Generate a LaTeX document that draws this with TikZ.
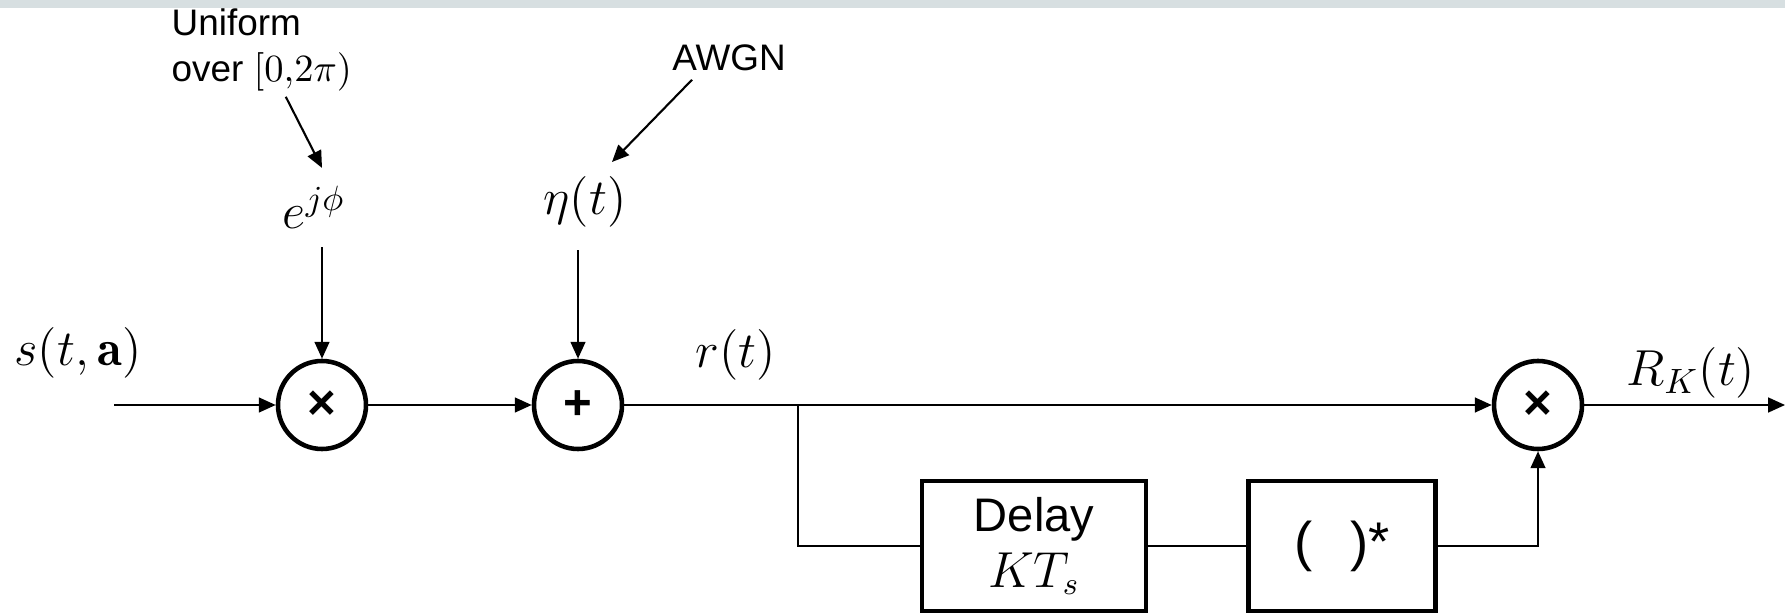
\documentclass[tikz,border=0pt]{standalone}
\usepackage{fontspec}
\setsansfont{Liberation Sans}
\usepackage{xcolor}
\definecolor{topbar}{HTML}{D7DFE1}
\usepackage{tikz}
\usetikzlibrary{arrows.meta, positioning, calc}

\begin{document}
\begin{tikzpicture}[
  opnode/.style={draw, circle, line width=1.3pt, minimum size=0.88cm, inner sep=0pt,
    font=\sffamily\bfseries\fontsize{14}{14}\selectfont},
  blk/.style={draw, line width=1.3pt, inner sep=0pt, align=center,
    font=\sffamily\fontsize{13.4}{16}\selectfont},
  note/.style={font=\sffamily\fontsize{10.5}{13.1}\selectfont, inner sep=0pt},
  sig/.style={font=\fontsize{14.5}{16}\selectfont, inner sep=0pt},
  wire/.style={line width=0.6pt},
  >={Triangle[length=4.8pt,width=4.2pt]}
]
  \useasboundingbox (0,0) rectangle (17.85,6.15);
  \fill[topbar] (0,6.07) rectangle (17.85,6.15);

  % sources above the chain
  \node[note, anchor=north west, align=left] (unif) at (1.71,6.07) {Uniform\\over $[0{,}2\pi)$};
  \node[note] (awgn) at (7.29,5.57) {AWGN};
  \node[sig] (phase) at (3.14,4.08) {$e^{j\phi}$};
  \node[sig] (noise) at (5.85,4.13) {$\eta(t)$};

  % main chain
  \coordinate (in) at (1.14,2.10);
  \node[opnode] (mul1) at (3.22,2.10) {×};
  \node[opnode] (add)  at (5.78,2.10) {+};
  \node[opnode] (mul2) at (15.38,2.10) {×};
  \coordinate (out) at (17.85,2.10);
  \coordinate (split) at (7.98,2.10);

  \node[blk, minimum width=2.24cm, minimum height=1.30cm] (delay) at (10.34,0.69)
    {Delay\\$KT_s$};
  \node[blk, minimum width=1.87cm, minimum height=1.30cm,
    font=\sffamily\fontsize{15.5}{16}\selectfont] (conj) at (13.42,0.69)
    {(\hspace{0.7em})*};

  \node[sig] (sin) at (0.78,2.62) {$s(t,\mathbf{a})$};
  \node[sig] (rlbl) at (7.36,2.60) {$r(t)$};
  \node[sig] (rk) at (16.91,2.42) {$R_K(t)$};

  \draw[wire, ->] ([xshift=0.24cm, yshift=-0.05cm]unif.south) -- ([xshift=0.08cm, yshift=0.17cm]phase.north);
  \draw[wire, ->] ([xshift=-0.37cm, yshift=-0.08cm]awgn.south) -- ([xshift=0.27cm, yshift=0.14cm]noise.north);
  \draw[wire, ->, shorten <=0.18cm] (phase.south -| mul1.north) -- (mul1.north);
  \draw[wire, ->, shorten <=0.22cm] (noise.south -| add.north) -- (add.north);

  \draw[wire, ->] (in) -- (mul1);
  \draw[wire, ->] (mul1) -- (add);
  \draw[wire, ->] (add) -- (mul2);
  \draw[wire, ->] (mul2) -- (out);
  \draw[wire] (split) |- (delay.west);
  \draw[wire] (delay) -- (conj);
  \draw[wire, ->] (conj.east) -| (mul2.south);
\end{tikzpicture}
\end{document}
